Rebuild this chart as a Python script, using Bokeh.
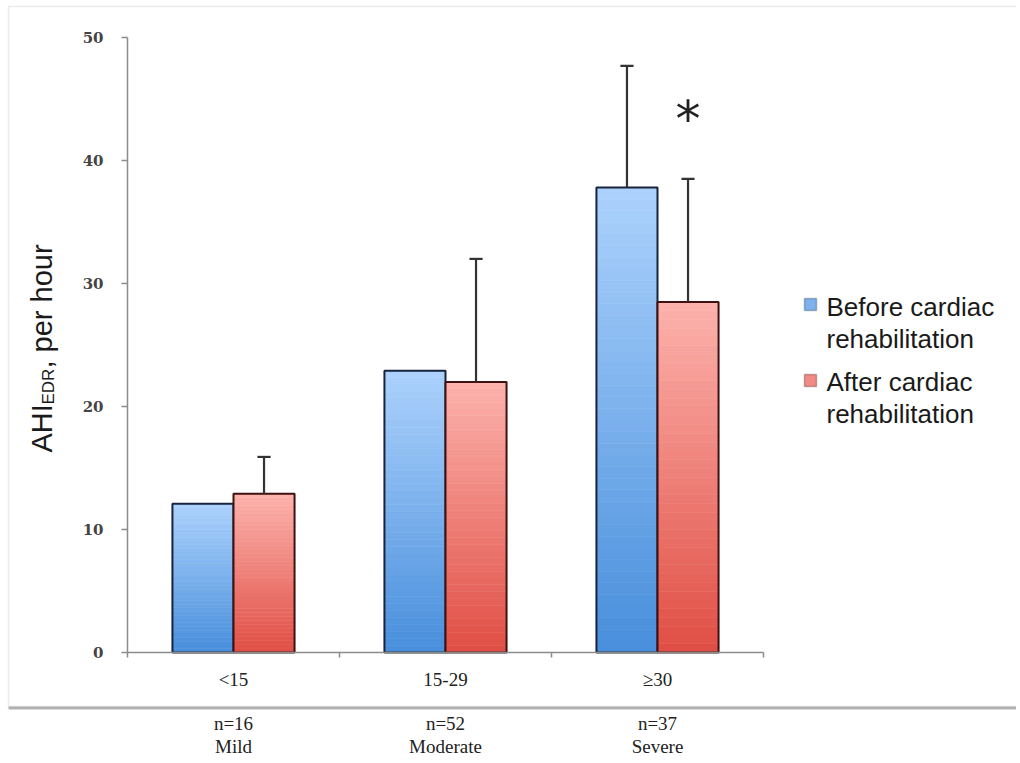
import numpy as np
from bokeh.plotting import figure
from bokeh.models import Range1d, FixedTicker, LinearAxis, BoxAnnotation, Label
from bokeh.core.properties import value
from bokeh.embed import file_html
from bokeh.resources import INLINE

# ---------------- data ----------------
categories = ["<15", "15-29", "≥30"]
n_labels = ["n=16", "n=52", "n=37"]
severity = ["Mild", "Moderate", "Severe"]
before = [12.1, 22.9, 37.8]
after = [12.9, 22.0, 28.5]
before_err = [np.nan, np.nan, 9.9]
after_err = [3.0, 10.0, 10.0]
significant = [False, False, True]
y_ticks = [0, 10, 20, 30, 40, 50]
series = ["Before cardiac", "After cardiac"]
series_line2 = ["rehabilitation", "rehabilitation"]

# ---------------- geometry (frame covers whole canvas; axes fixed in place) ----------------
W, H = 1016, 760
X0, XPX = 127.0, 212.0        # pixel of x=0, pixels per category
Y0, YPX = 652.0, 12.3         # pixel of y=0, pixels per unit
def px2x(px): return (px - X0) / XPX
def py2y(py): return (Y0 - py) / YPX

p = figure(width=W, height=H, output_backend="svg", toolbar_location=None,
           x_range=Range1d(px2x(0), px2x(W)), y_range=Range1d(py2y(H), py2y(0)),
           x_axis_type=None, y_axis_type=None, min_border=0)
p.outline_line_color = None
p.grid.visible = False
p.background_fill_color = "white"
p.border_fill_color = "white"

AX = "#8c8c8c"
yaxis = LinearAxis(ticker=FixedTicker(ticks=y_ticks), fixed_location=0, bounds=(0, 50),
                   axis_line_color=AX, axis_line_width=1.5,
                   major_tick_line_color=AX, major_tick_line_width=1.5,
                   major_tick_in=0, major_tick_out=6, minor_tick_line_color=None,
                   major_label_text_font="DejaVu Serif", major_label_text_font_style="bold",
                   major_label_text_font_size="15px", major_label_text_color="#444444",
                   major_label_standoff=18)
p.add_layout(yaxis, "left")

ncat = len(categories)
centers = [i + 0.5 for i in range(ncat)]
xaxis = LinearAxis(ticker=FixedTicker(ticks=centers, minor_ticks=list(range(ncat + 1))),
                   fixed_location=0, bounds=(0, ncat),
                   major_label_overrides={c: t for c, t in zip(centers, categories)},
                   axis_line_color=AX, axis_line_width=1.5,
                   major_tick_line_color=None, major_tick_in=0, major_tick_out=5,
                   minor_tick_line_color=AX, minor_tick_line_width=1.5, minor_tick_in=0, minor_tick_out=5,
                   major_label_text_font="Liberation Serif", major_label_text_font_size="19px",
                   major_label_text_color="#222222", major_label_standoff=11)
p.add_layout(xaxis, "below")

for labels, standoff in ((n_labels, 55), (severity, 78)):
    ax = LinearAxis(ticker=FixedTicker(ticks=centers, minor_ticks=[]), fixed_location=0,
                    major_label_overrides={c: t for c, t in zip(centers, labels)},
                    axis_line_color=None, major_tick_line_color=None, minor_tick_line_color=None,
                    major_tick_in=0, major_tick_out=5,
                    major_label_text_font="Liberation Serif", major_label_text_font_size="19px",
                    major_label_text_color="#222222", major_label_standoff=standoff)
    p.add_layout(ax, "below")

# ---------------- bars with vertical gradient ----------------
bw = 0.288
N = 40
def lerp(c0, c1, t):
    return "#%02x%02x%02x" % tuple(int(round(a + (b - a) * t)) for a, b in zip(c0, c1))

styles = [
    dict(bot=(72, 142, 220), top=(172, 210, 252), edge="#17233d", vals=before, errs=before_err, off=-bw),
    dict(bot=(224, 78, 68), top=(252, 178, 172), edge="#3e1212", vals=after, errs=after_err, off=0.0),
]
for st in styles:
    L, R, B, T, C = [], [], [], [], []
    for c, v in zip(centers, st["vals"]):
        for k in range(N):
            L.append(c + st["off"]); R.append(c + st["off"] + bw)
            B.append(v * k / N); T.append(v * (k + 1) / N)
            C.append(lerp(st["bot"], st["top"], (k + 0.5) / N))
    p.quad(left=L, right=R, bottom=B, top=T, fill_color=C, line_color=C, line_width=0.6)
    p.quad(left=[c + st["off"] for c in centers], right=[c + st["off"] + bw for c in centers],
           bottom=0, top=st["vals"], fill_color=None, line_color=st["edge"], line_width=2)
    xs, y0, y1 = [], [], []
    for c, v, e in zip(centers, st["vals"], st["errs"]):
        if np.isfinite(e):
            xs.append(c + st["off"] + bw / 2); y0.append(v); y1.append(v + e)
    cw = 0.031
    p.segment(x0=xs, y0=y0, x1=xs, y1=y1, line_color="#333333", line_width=2.2)
    p.segment(x0=[x - cw for x in xs], y0=y1, x1=[x + cw for x in xs], y1=y1,
              line_color="#333333", line_width=2.2)

# significance asterisk
sx = [c + bw / 2 for c, s in zip(centers, significant) if s]
sy = [a + e + 4.9 for a, e, s in zip(after, after_err, significant) if s]
p.text(x=sx, y=sy, text=["*"] * len(sx), text_font=value("DejaVu Sans"), text_font_size="50px",
       text_align="center", text_baseline="alphabetic", text_color="#222222")

# ---------------- y axis label (with subscript) ----------------
ylab = dict(angle=np.pi / 2, text_align="left", text_baseline="alphabetic",
            text_font="Liberation Sans", text_color="#1a1a1a")
p.add_layout(Label(x=px2x(41), y=py2y(452), text="AHI", text_font_size="29px", **ylab))
p.add_layout(Label(x=px2x(48), y=py2y(404), text="EDR", text_font_size="17px", **ylab))
p.add_layout(Label(x=px2x(41), y=py2y(368), text=", per hour", text_font_size="29px", **ylab))

# ---------------- legend ----------------
leg_fill = ["#7fb2ec", "#f08c85"]
leg_edge = ["#17233d", "#3e1212"]
sq_top = [298, 374]
line1 = [306, 381]
for i in range(2):
    p.add_layout(BoxAnnotation(left=px2x(804), right=px2x(816), top=py2y(sq_top[i]),
                               bottom=py2y(sq_top[i] + 12),
                               fill_color=leg_fill[i], fill_alpha=1.0,
                               line_color=leg_edge[i], line_width=1.5))
    for txt, yy in ((series[i], line1[i]), (series_line2[i], line1[i] + 32)):
        p.add_layout(Label(x=px2x(826), y=py2y(yy), text=txt,
                           text_font="Liberation Sans", text_font_size="26px",
                           text_color="#1a1a1a", text_baseline="middle", text_align="left"))

# ---------------- outer frame box ----------------
p.add_layout(BoxAnnotation(left=px2x(8), right=px2x(W + 40), top=py2y(6), bottom=py2y(706),
                           fill_alpha=0, line_color="#bdbdbd", line_width=1.5))
p.add_layout(BoxAnnotation(left=px2x(8), right=px2x(W + 40), top=py2y(706), bottom=py2y(709),
                           fill_color="#a0a0a0", fill_alpha=0.8, line_color=None))

open("out.html", "w").write(file_html(p, INLINE))
